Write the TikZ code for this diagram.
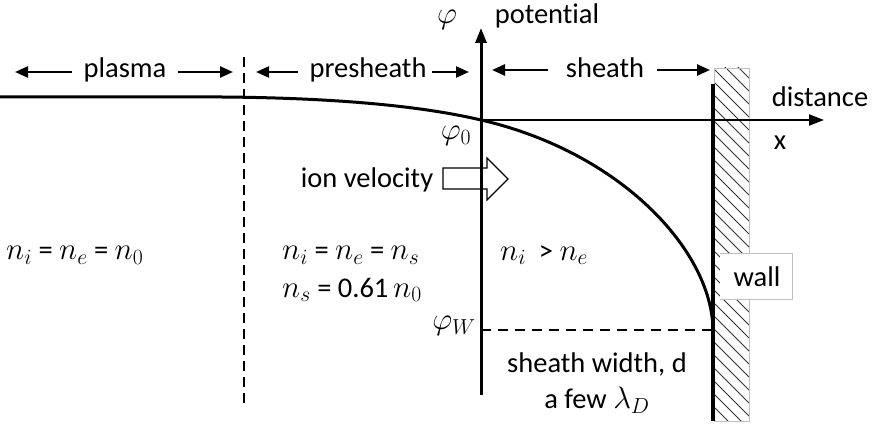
\RequirePackage{fix-cm}
\documentclass[tikz,border=0pt]{standalone}
\usepackage{fontspec}
\setmainfont[Ligatures=NoCommon]{Carlito}
\usetikzlibrary{arrows.meta}
\newcommand{\mth}[1]{{\fontsize{31}{36}\selectfont$#1$}}
\begin{document}
\begin{tikzpicture}[x=1pt,y=-1pt,
  lbl/.style={inner sep=0pt,font=\fontsize{28.5}{32}\selectfont},
  span/.style={line width=2.4pt,-{Triangle[length=13pt,width=11pt]}},
  axis/.style={line width=3pt,-{Triangle[length=15pt,width=11pt]}},
  hatch/.style={line width=0.9pt,black!80}]
\useasboundingbox (0,0) rectangle (874,425);
% coordinates
\coordinate (ybot) at (481,395);
\coordinate (ytop) at (481,28);
\coordinate (origin) at (481,120);
\coordinate (xend) at (824,120);
\coordinate (wtop) at (713,84);
\coordinate (wbot) at (713,421);
\coordinate (wlow) at (713,330);
\coordinate (dtop) at (244,57);
\coordinate (dbot) at (244,405);
% hatched wall
\begin{scope}
  \clip (714,68) rectangle (749,421);
  \foreach \yy in {30,43,...,440} \draw[hatch] (714,\yy) -- (749,\yy+35);
\end{scope}
\draw[black!25,line width=0.8pt] (714,68) rectangle (749,421);
\node[fill=white,draw=none,minimum width=72pt,minimum height=46pt,inner sep=0pt] (wallbox) at (756,276) {};
\draw[black!25,line width=0.8pt] (720,253) -- (792,253) -- (792,299) -- (720,299);
\node[lbl] (wall) at (757,277) {wall};
\draw[line width=4pt] (wtop) -- (wbot);
% axes
\draw[axis] (ybot) -- (ytop);
\draw[line width=2pt,-{Triangle[length=15pt,width=11pt]}] (origin) -- (xend);
% region separator
\draw[line width=2pt,dash pattern=on 10pt off 6pt] (dtop) -- (dbot);
% potential curve
\draw[line width=3pt] (0,97) -- (222,97) .. controls (350,98) and (430,108) .. (origin)
  .. controls (620,152) and (712,250) .. (wlow);
% phi_W dashed
\draw[line width=1.8pt,dash pattern=on 10pt off 7pt] (origin |- wlow) -- (wlow);
% labels on axes
\node[lbl] (phi) at (447,20) {\mth{\varphi}};
\node[lbl] (pot) at (547,16) {potential};
\node[lbl] (dist) at (820,97) {distance};
\node[lbl] (xl) at (780,143) {x};
\node[lbl] (phi0) at (456,136) {\mth{\varphi_0}};
\node[lbl] (phiW) at (454,326) {\mth{\varphi_W}};
% region labels with arrows
\node[lbl] (plasma) at (125,70) {plasma};
\coordinate (pl1) at (72,72); \coordinate (pl1t) at (15,72);
\coordinate (pl2) at (178,72); \coordinate (pl2t) at (233,72);
\draw[span] (pl1) -- (pl1t);
\draw[span] (pl2) -- (pl2t);
\node[lbl] (presh) at (368,70) {presheath};
\coordinate (pr1) at (298,72); \coordinate (pr1t) at (256,72);
\coordinate (pr2) at (432,72); \coordinate (pr2t) at (469,72);
\draw[span] (pr1) -- (pr1t);
\draw[span] (pr2) -- (pr2t);
\node[lbl] (sheath) at (605,68) {sheath};
\coordinate (sh1) at (548,70); \coordinate (sh1t) at (492,70);
\coordinate (sh2) at (657,70); \coordinate (sh2t) at (710,70);
\draw[span] (sh1) -- (sh1t);
\draw[span] (sh2) -- (sh2t);
% ion velocity block arrow
\node[lbl] (ionv) at (367,180) {ion velocity};
\draw[line width=1.2pt,fill=white] (443,168) -- (487,168) -- (487,158) -- (508,179) -- (487,200) -- (487,189) -- (443,189) -- cycle;
\draw[line width=3pt] (481,150) -- (481,210);
% densities
\node[lbl,anchor=west] (n1) at (6,255) {\mth{n_i} = \mth{n_e} = \mth{n_0}};
\node[lbl,anchor=west] (n2) at (282,255) {\mth{n_i} = \mth{n_e} = \mth{n_s}};
\node[lbl,anchor=west] (n3) at (282,290) {\mth{n_s} = 0.61\,\mth{n_0}};
\node[lbl,anchor=west] (n4) at (500,255) {\mth{n_i} \ > \mth{n_e}};
% sheath width
\node[lbl] (sw) at (597,364) {sheath width, d};
\node[lbl] (few) at (597,400) {a few \mth{\lambda_D}};
\end{tikzpicture}
\end{document}
